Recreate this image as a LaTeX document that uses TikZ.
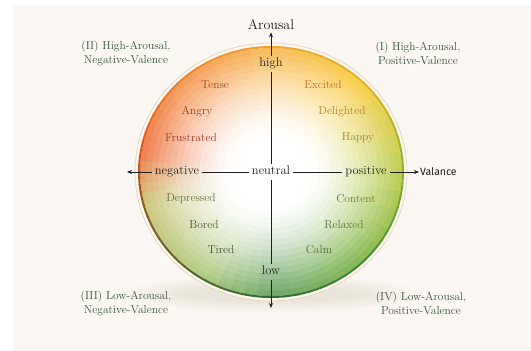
\documentclass[tikz,border=0pt]{standalone}
\usepackage{fontspec}
\newfontfamily\valfont{Fira Sans}
\usetikzlibrary{arrows.meta,calc,positioning}

\definecolor{paper}{HTML}{FBF7F2}
\definecolor{ringC}{HTML}{E8D4B6}
\definecolor{axisC}{HTML}{1E1E1E}
\definecolor{quadC}{HTML}{35553A}
% rim colours, going round counter-clockwise from the right
\definecolor{rimA}{HTML}{8FB02C}
\definecolor{rimB}{HTML}{E6B222}
\definecolor{rimC}{HTML}{F0A42A}
\definecolor{rimD}{HTML}{EE7F28}
\definecolor{rimE}{HTML}{DD5520}
\definecolor{rimF}{HTML}{8A5A1C}
\definecolor{rimG}{HTML}{4F6A24}
\definecolor{rimH}{HTML}{2F6B32}
\definecolor{rimI}{HTML}{3F8A2E}
% disc colours next to the rim
\definecolor{tintA}{HTML}{BACC48}
\definecolor{tintB}{HTML}{F6CC3E}
\definecolor{tintC}{HTML}{F7B850}
\definecolor{tintD}{HTML}{F4924E}
\definecolor{tintE}{HTML}{EF7240}
\definecolor{tintF}{HTML}{CCC478}
\definecolor{tintG}{HTML}{A9C87A}
\definecolor{tintH}{HTML}{62A05C}
\definecolor{tintI}{HTML}{7DB448}
% word colours
\definecolor{tenseC}{HTML}{A8462A}
\definecolor{angryC}{HTML}{972F26}
\definecolor{frustC}{HTML}{A23226}
\definecolor{excitedC}{HTML}{C46A22}
\definecolor{delightC}{HTML}{BC7A28}
\definecolor{happyC}{HTML}{A88026}
\definecolor{depressC}{HTML}{5F7032}
\definecolor{boredC}{HTML}{525E32}
\definecolor{tiredC}{HTML}{45523A}
\definecolor{contentC}{HTML}{6E7C26}
\definecolor{relaxC}{HTML}{60722C}
\definecolor{calmC}{HTML}{536C30}

\tikzset{
  word/.style={font=\fontsize{11.5}{13}\selectfont, inner sep=1pt},
  axisword/.style={font=\fontsize{12.5}{14}\selectfont, text=axisC, inner sep=3pt,
                   text height=1.6ex, text depth=.45ex},
  quadlabel/.style={font=\fontsize{11.5}{14}\selectfont, text=quadC, align=center},
  axisline/.style={draw=axisC, line width=.8pt},
  axisarrow/.style={axisline, -{Stealth[length=5pt,width=4pt]}},
  rim/.style={line width=2pt, line cap=butt},
}

\begin{document}
\begin{tikzpicture}[x=1pt,y=1pt]
            \useasboundingbox (0,0) rectangle (531,351);
            \fill[white] (0,0) rectangle (531,351);
            \fill[paper] (13,0) rectangle (531,346);
            \coordinate (cc) at (271,179);

            % soft shadow under the disc
            \foreach \g in {0,...,5}
                \fill[brown!50!black, opacity=.014] (271,57) ellipse [x radius=148-12*\g, y radius=18-2*\g];

            % disc: white core, then tinted bands towards the rim
            \draw[ringC, line width=.7pt, fill=paper] (cc) ellipse [x radius=136, y radius=129];
            \fill[white] (cc) ellipse [x radius=132, y radius=125];
            \foreach \a/\b/\ca/\cb in {0/45/tintA/tintB, 45/90/tintB/tintC, 90/135/tintC/tintD,
                                       135/170/tintD/tintE, 170/195/tintE/tintF, 195/240/tintF/tintG,
                                       240/270/tintG/tintH, 270/315/tintH/tintI, 315/360/tintI/tintA}{
                \foreach \s in {0,...,4}{
                    \pgfmathsetmacro\st{\a+(\b-\a)*\s/5}
                    \pgfmathsetmacro\en{\a+(\b-\a)*(\s+1)/5+.8}
                    \pgfmathtruncatemacro\q{100*(\s+.5)/5}
                    \colorlet{wedgeC}{\cb!\q!\ca}
                    \foreach \k in {0,...,15}{
                        \pgfmathsetmacro\rx{131*(1-\k/22)}
                        \pgfmathsetmacro\ry{124*(1-\k/22)}
                        \pgfmathsetmacro\ix{131*(1-(\k+1)/22)-1}
                        \pgfmathsetmacro\iy{124*(1-(\k+1)/22)-1}
                        \pgfmathtruncatemacro\w{92*max(0,(1-\k/22-.28)/.72)^1.5}
                        \fill[wedgeC!\w!white] (cc) ++(\st:\rx\space and \ry)
                            arc[start angle=\st, end angle=\en, x radius=\rx, y radius=\ry]
                            -- ($(cc)+(\en:\ix\space and \iy)$)
                            arc[start angle=\en, end angle=\st, x radius=\ix, y radius=\iy] -- cycle;
                    }
                }
            }
            % coloured rim
            \foreach \a/\b/\ca/\cb in {0/45/rimA/rimB, 45/90/rimB/rimC, 90/135/rimC/rimD,
                                       135/170/rimD/rimE, 170/195/rimE/rimF, 195/240/rimF/rimG,
                                       240/270/rimG/rimH, 270/315/rimH/rimI, 315/360/rimI/rimA}{
                \foreach \s in {0,...,7}{
                    \pgfmathsetmacro\st{\a+(\b-\a)*\s/8}
                    \pgfmathsetmacro\en{\a+(\b-\a)*(\s+1)/8+.6}
                    \pgfmathtruncatemacro\q{100*(\s+.5)/8}
                    \draw[rim, draw=\cb!\q!\ca] (cc) ++(\st:132 and 125) arc[start angle=\st, end angle=\en, x radius=132, y radius=125];
                }
            }

            % axes
            \node[axisword] (high) at (271,287) {high};
            \node[axisword] (neutral) at (271,179) {neutral};
            \node[axisword] (low) at (271,79) {low};
            \node[axisword] (negative) at (177,179) {negative};
            \node[axisword] (positive) at (366,179) {positive};
            \node[font=\fontsize{14}{16}\selectfont, text=axisC, inner sep=2pt] (arousal) at (271,326) {Arousal};
            \node[font=\valfont\fontsize{10.5}{12}\selectfont, text=axisC, anchor=west, inner sep=1pt] (valance) at (419,179) {Valance};
            \coordinate (westend) at (127,179);
            \coordinate (southend) at (271,43);

            \draw[axisline] (high) -- (neutral);
            \draw[axisline] (neutral) -- (low);
            \draw[axisline] (negative) -- (neutral);
            \draw[axisline] (neutral) -- (positive);
            \draw[axisarrow] (high) -- (arousal);
            \draw[axisarrow] (low) -- (southend);
            \draw[axisarrow] (negative) -- (westend);
            \draw[axisarrow] (positive) -- (valance);

            % emotion words
            \node[word, text=tenseC] (tense) at (215,266) {Tense};
            \node[word, text=angryC] (angry) at (197,239) {Angry};
            \node[word, text=frustC] (frustrated) at (191,213) {Frustrated};
            \node[word, text=excitedC] (excited) at (323,266) {Excited};
            \node[word, text=delightC] (delighted) at (342,239) {Delighted};
            \node[word, text=happyC] (happy) at (358,213) {Happy};
            \node[word, text=depressC] (depressed) at (191,152) {Depressed};
            \node[word, text=boredC] (bored) at (204,126) {Bored};
            \node[word, text=tiredC] (tired) at (221,101) {Tired};
            \node[word, text=contentC] (content) at (356,152) {Content};
            \node[word, text=relaxC] (relaxed) at (344,126) {Relaxed};
            \node[word, text=calmC] (calm) at (319,101) {Calm};

            % quadrant names
            \node[quadlabel] (quadII) at (126,298) {(II) High-Arousal,\\Negative-Valence};
            \node[quadlabel] (quadI) at (418,298) {(I) High-Arousal,\\Positive-Valence};
            \node[quadlabel] (quadIII) at (126,48) {(III) Low-Arousal,\\Negative-Valence};
            \node[quadlabel] (quadIV) at (421,48) {(IV) Low-Arousal,\\Positive-Valence};
        \end{tikzpicture}
\end{document}
